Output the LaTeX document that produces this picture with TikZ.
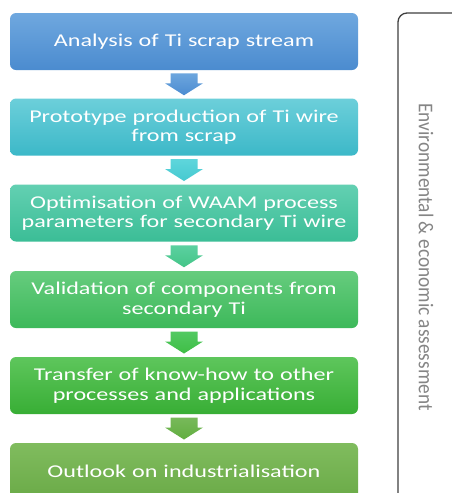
\documentclass[tikz,border=0pt]{standalone}
\usepackage{fontspec}
\setmainfont{Carlito}
\newfontfamily\boxfont[FakeStretch=1.34]{Carlito}
\newfontfamily\sidefont[FakeStretch=0.92]{Carlito}
\usetikzlibrary{calc}
\definecolor{c1t}{HTML}{6FA8DF}\definecolor{c1b}{HTML}{4B8BCF}
\definecolor{c2t}{HTML}{6CCFDA}\definecolor{c2b}{HTML}{3CB8C8}
\definecolor{c3t}{HTML}{63D0B2}\definecolor{c3b}{HTML}{3BBD96}
\definecolor{c4t}{HTML}{66CC7E}\definecolor{c4b}{HTML}{3DB95A}
\definecolor{c5t}{HTML}{5EC65C}\definecolor{c5b}{HTML}{38AE35}
\definecolor{c6t}{HTML}{80BC5E}\definecolor{c6b}{HTML}{6AAA47}
\definecolor{a1t}{HTML}{6DA6DE}\definecolor{a1b}{HTML}{4C8CD1}
\definecolor{a2t}{HTML}{5ED6DC}\definecolor{a2b}{HTML}{46C9D0}
\definecolor{a3t}{HTML}{5BD0A0}\definecolor{a3b}{HTML}{45C588}
\definecolor{a4t}{HTML}{52C962}\definecolor{a4b}{HTML}{3FBE45}
\definecolor{a5t}{HTML}{77B95A}\definecolor{a5b}{HTML}{62AE40}
\definecolor{framegray}{HTML}{3F3F3F}
\definecolor{textgray}{HTML}{858585}
\tikzset{
  stepbox/.style={rounded corners=6pt, minimum width=348pt, minimum height=57pt,
    inner sep=0pt, text=white, align=center, text width=346pt,
    font=\boxfont\fontsize{18}{19.5}\selectfont},
}
% block arrow pointing down, centred between two boxes
\newcommand\flowarrow[4]{%
  \coordinate (#1) at ($(#2.south)!0.5!(#3.north)$);
  \shade[top color=#4t, bottom color=#4b]
    ($(#1)+(-13.5,-11)$) -- ($(#1)+(13.5,-11)$) -- ($(#1)+(13.5,-1)$) --
    ($(#1)+(19,-1)$) -- ($(#1)+(0,11)$) -- ($(#1)+(-19,-1)$) --
    ($(#1)+(-13.5,-1)$) -- cycle;
}
\begin{document}
\begin{tikzpicture}[x=1pt,y=-1pt]
\useasboundingbox (0,0) rectangle (452,493);
\clip (0,0) rectangle (452,493);
\fill[white] (0,0) rectangle (452,493);

\node[stepbox, top color=c1t, bottom color=c1b] (b1) at (184,41.5) {Analysis of Ti scrap stream};
\node[stepbox, top color=c2t, bottom color=c2b] (b2) at (184,127) {Prototype production of Ti wire\\from scrap};
\node[stepbox, top color=c3t, bottom color=c3b] (b3) at (184,213) {Optimisation of WAAM process\\parameters for secondary Ti wire};
\node[stepbox, top color=c4t, bottom color=c4b] (b4) at (184,299.5) {Validation of components from\\secondary Ti};
\node[stepbox, top color=c5t, bottom color=c5b] (b5) at (184,385.5) {Transfer of know-how to other\\processes and applications};
\node[stepbox, top color=c6t, bottom color=c6b] (b6) at (184,471.5) {Outlook on industrialisation};

\flowarrow{m1}{b1}{b2}{a1}
\flowarrow{m2}{b2}{b3}{a2}
\flowarrow{m3}{b3}{b4}{a3}
\flowarrow{m4}{b4}{b5}{a4}
\flowarrow{m5}{b5}{b6}{a5}

% side panel for the assessment running alongside all steps
\coordinate (p1) at (398,520);
\coordinate (p2) at (398,13);
\coordinate (p3) at (470,13);
\draw[framegray, line width=1.3pt, rounded corners=9pt] (p1) -- (p2) -- (p3);
\node[rotate=-90, text=textgray, font=\sidefont\fontsize{21}{24}\selectfont, inner sep=0pt] (side) at (426,257) {Environmental \& economic assessment};
\end{tikzpicture}
\end{document}
